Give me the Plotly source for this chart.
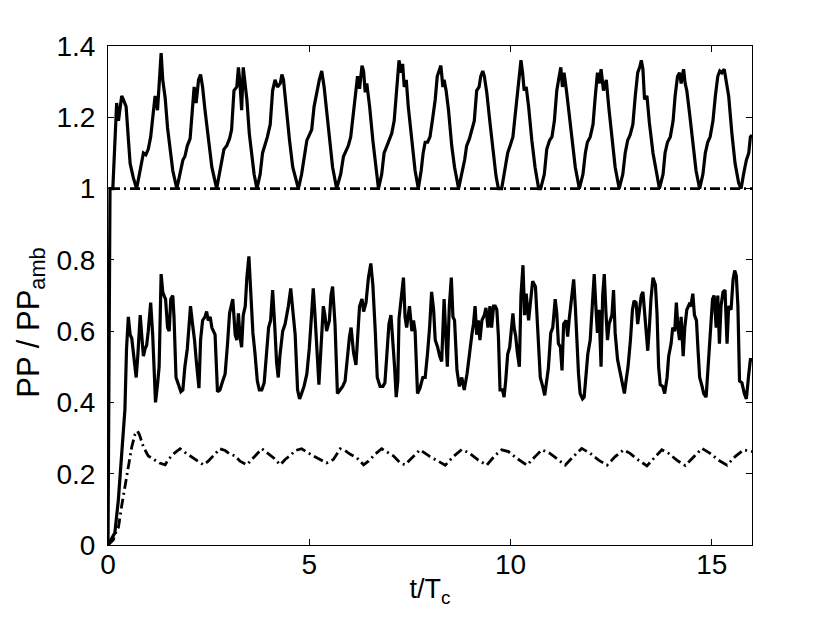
import plotly.graph_objects as go

# ---- data ----
t_upper = [0, 0.05, 0.12, 0.17, 0.215, 0.26, 0.30, 0.34, 0.38, 0.45, 0.505, 0.55, 0.63, 0.71,
           0.78, 0.84, 0.88, 0.94, 1.00, 1.06, 1.13, 1.17, 1.23, 1.28, 1.32, 1.36, 1.42, 1.48, 1.54, 1.61, 1.71,
           1.79, 1.86, 1.91, 1.97, 2.04, 2.10, 2.14, 2.19, 2.25, 2.30, 2.35, 2.41, 2.49, 2.58, 2.70,
           2.77, 2.83, 2.88, 2.95, 3.02, 3.07, 3.13, 3.20, 3.24, 3.28, 3.32, 3.36, 3.41, 3.45, 3.51, 3.57, 3.63, 3.70,
           3.78, 3.84, 3.90, 3.96, 4.03, 4.09, 4.15, 4.21, 4.28, 4.32, 4.36, 4.42, 4.51, 4.59, 4.73,
           4.81, 4.87, 4.94, 5.00, 5.06, 5.12, 5.19, 5.25, 5.31, 5.37, 5.43, 5.50, 5.58, 5.68,
           5.78, 5.85, 5.92, 5.97, 6.03, 6.10, 6.16, 6.20, 6.25, 6.31, 6.35, 6.39, 6.43, 6.50, 6.58, 6.66, 6.72,
           6.80, 6.86, 6.93, 6.99, 7.05, 7.11, 7.17, 7.23, 7.28, 7.32, 7.36, 7.41, 7.46, 7.55, 7.63, 7.71,
           7.78, 7.83, 7.88, 7.94, 8.00, 8.07, 8.13, 8.18, 8.24, 8.27, 8.32, 8.35, 8.40, 8.46, 8.54, 8.61, 8.71,
           8.79, 8.86, 8.91, 8.98, 9.04, 9.10, 9.16, 9.22, 9.26, 9.31, 9.35, 9.41, 9.49, 9.58, 9.64, 9.70, 9.78,
           9.87, 9.93, 9.99, 10.06, 10.11, 10.17, 10.22, 10.26, 10.30, 10.34, 10.39, 10.45, 10.53, 10.61, 10.70, 10.75,
           10.84, 10.90, 10.97, 11.03, 11.09, 11.15, 11.21, 11.25, 11.29, 11.33, 11.39, 11.44, 11.53, 11.61, 11.71,
           11.80, 11.86, 11.91, 11.98, 12.05, 12.10, 12.16, 12.21, 12.25, 12.31, 12.38, 12.44, 12.52, 12.60, 12.70,
           12.79, 12.85, 12.91, 12.97, 13.04, 13.10, 13.16, 13.21, 13.25, 13.29, 13.33, 13.39, 13.45, 13.54, 13.62, 13.70,
           13.79, 13.84, 13.90, 13.97, 14.04, 14.09, 14.15, 14.20, 14.24, 14.30, 14.34, 14.38, 14.45, 14.53, 14.61, 14.70,
           14.78, 14.84, 14.90, 14.96, 15.03, 15.09, 15.15, 15.20, 15.25, 15.31, 15.36, 15.42, 15.50, 15.58, 15.67, 15.73,
           15.79, 15.86, 15.92, 15.96, 16.0]
pp_upper = [0, 1.0, 1.0, 1.14, 1.24, 1.19, 1.225, 1.26, 1.25, 1.23, 1.14, 1.07, 1.03, 1.0,
            1.04, 1.07, 1.10, 1.095, 1.11, 1.145, 1.23, 1.26, 1.22, 1.305, 1.38, 1.305, 1.255, 1.17, 1.11, 1.05, 1.0,
            1.04, 1.08, 1.09, 1.12, 1.14, 1.23, 1.285, 1.24, 1.305, 1.32, 1.285, 1.22, 1.14, 1.06, 1.0,
            1.04, 1.08, 1.11, 1.12, 1.14, 1.165, 1.275, 1.285, 1.34, 1.295, 1.22, 1.34, 1.295, 1.25, 1.155, 1.09, 1.04, 1.0,
            1.04, 1.10, 1.12, 1.145, 1.18, 1.275, 1.305, 1.285, 1.295, 1.32, 1.305, 1.23, 1.135, 1.06, 1.0,
            1.04, 1.09, 1.135, 1.15, 1.165, 1.23, 1.275, 1.305, 1.33, 1.285, 1.22, 1.145, 1.06, 1.0,
            1.04, 1.09, 1.11, 1.12, 1.145, 1.22, 1.275, 1.315, 1.28, 1.345, 1.33, 1.27, 1.295, 1.23, 1.135, 1.06, 1.0,
            1.04, 1.10, 1.12, 1.135, 1.155, 1.19, 1.285, 1.36, 1.325, 1.35, 1.285, 1.305, 1.23, 1.125, 1.05, 1.0,
            1.05, 1.10, 1.13, 1.13, 1.145, 1.20, 1.25, 1.315, 1.34, 1.345, 1.285, 1.305, 1.275, 1.22, 1.12, 1.06, 1.0,
            1.04, 1.08, 1.12, 1.14, 1.165, 1.19, 1.275, 1.285, 1.315, 1.33, 1.315, 1.27, 1.185, 1.10, 1.035, 1.0, 1.0,
            1.06, 1.10, 1.12, 1.145, 1.20, 1.26, 1.315, 1.36, 1.325, 1.275, 1.285, 1.23, 1.135, 1.06, 1.0, 1.0,
            1.04, 1.11, 1.135, 1.145, 1.19, 1.275, 1.315, 1.34, 1.285, 1.325, 1.275, 1.23, 1.135, 1.06, 1.0,
            1.04, 1.10, 1.13, 1.145, 1.18, 1.25, 1.325, 1.295, 1.335, 1.275, 1.305, 1.23, 1.135, 1.06, 1.0,
            1.04, 1.10, 1.135, 1.15, 1.18, 1.26, 1.325, 1.34, 1.36, 1.335, 1.25, 1.26, 1.185, 1.10, 1.045, 1.0,
            1.04, 1.10, 1.13, 1.145, 1.19, 1.26, 1.315, 1.325, 1.295, 1.335, 1.295, 1.275, 1.21, 1.12, 1.05, 1.0,
            1.04, 1.10, 1.13, 1.145, 1.19, 1.26, 1.315, 1.33, 1.325, 1.335, 1.295, 1.26, 1.155, 1.07, 1.015, 1.0,
            1.04, 1.08, 1.10, 1.145, 1.15]

t_mid = [0, 0.17, 0.257, 0.34, 0.42, 0.46, 0.505, 0.55, 0.59, 0.63, 0.70, 0.74, 0.80, 0.84, 0.88, 0.92, 0.96,
         1.00, 1.06, 1.11, 1.14, 1.18, 1.23, 1.27, 1.32, 1.36, 1.39, 1.43, 1.48, 1.52, 1.56, 1.61, 1.64, 1.69,
         1.75, 1.81, 1.86, 1.91, 1.97, 2.02, 2.05, 2.10, 2.15, 2.19, 2.23, 2.26, 2.30, 2.35, 2.41, 2.45, 2.49,
         2.54, 2.58, 2.66, 2.72, 2.78, 2.85, 2.91, 2.97, 3.02, 3.06, 3.10, 3.16, 3.20, 3.24, 3.28, 3.32, 3.36,
         3.41, 3.45, 3.50, 3.55, 3.60, 3.65, 3.71, 3.76, 3.82, 3.88, 3.93, 3.99, 4.04, 4.09, 4.14, 4.19, 4.23,
         4.27, 4.34, 4.40, 4.48, 4.54, 4.59, 4.65, 4.71, 4.76, 4.81, 4.87, 4.94, 5.00, 5.06, 5.10, 5.14, 5.19,
         5.24, 5.29, 5.35, 5.39, 5.43, 5.50, 5.54, 5.58, 5.64, 5.70, 5.77, 5.83, 5.89, 5.95, 6.00, 6.04, 6.10,
         6.16, 6.21, 6.25, 6.31, 6.35, 6.41, 6.47, 6.53, 6.58, 6.64, 6.69, 6.76, 6.83, 6.88, 6.94, 6.98, 7.03,
         7.08, 7.12, 7.16, 7.20, 7.23, 7.28, 7.34, 7.38, 7.42, 7.49, 7.55, 7.59, 7.63, 7.69, 7.75, 7.82, 7.88,
         7.94, 7.99, 8.04, 8.09, 8.13, 8.19, 8.24, 8.29, 8.35, 8.40, 8.43, 8.48, 8.53, 8.57, 8.61, 8.67, 8.73,
         8.79, 8.85, 8.92, 8.98, 9.04, 9.08, 9.12, 9.16, 9.20, 9.24, 9.29, 9.35, 9.39, 9.44, 9.49, 9.53, 9.58,
         9.62, 9.66, 9.70, 9.74, 9.80, 9.84, 9.88, 9.93, 9.98, 10.02, 10.06, 10.09, 10.13, 10.17, 10.22, 10.26,
         10.31, 10.35, 10.39, 10.45, 10.49, 10.55, 10.62, 10.65, 10.70, 10.74, 10.80, 10.85, 10.88, 10.94, 11.00,
         11.05, 11.11, 11.15, 11.19, 11.24, 11.28, 11.32, 11.38, 11.42, 11.46, 11.52, 11.57, 11.61, 11.65, 11.69,
         11.73, 11.79, 11.83, 11.87, 11.92, 11.98, 12.03, 12.08, 12.12, 12.16, 12.20, 12.25, 12.29, 12.33, 12.37,
         12.41, 12.45, 12.52, 12.56, 12.60, 12.66, 12.71, 12.77, 12.83, 12.87, 12.92, 12.98, 13.03, 13.07, 13.12,
         13.16, 13.21, 13.25, 13.29, 13.32, 13.37, 13.41, 13.45, 13.49, 13.54, 13.60, 13.64, 13.68, 13.72, 13.78,
         13.83, 13.89, 13.93, 13.99, 14.03, 14.08, 14.12, 14.16, 14.20, 14.24, 14.29, 14.33, 14.38, 14.44, 14.48,
         14.53, 14.57, 14.62, 14.66, 14.70, 14.76, 14.80, 14.86, 14.90, 14.96, 15.02, 15.06, 15.11, 15.15, 15.19,
         15.23, 15.28, 15.33, 15.38, 15.42, 15.48, 15.53, 15.57, 15.61, 15.65, 15.69, 15.75, 15.81, 15.86, 15.92,
         15.96, 16.0]
pp_mid = [0, 0.034, 0.126, 0.27, 0.38, 0.55, 0.64, 0.59, 0.58, 0.54, 0.47, 0.53, 0.645, 0.585, 0.53, 0.55, 0.56,
          0.60, 0.68, 0.59, 0.52, 0.40, 0.45, 0.50, 0.76, 0.71, 0.70, 0.69, 0.61, 0.60, 0.69, 0.70, 0.64, 0.47,
          0.45, 0.43, 0.435, 0.50, 0.55, 0.64, 0.67, 0.62, 0.575, 0.52, 0.46, 0.44, 0.575, 0.63, 0.64, 0.655, 0.63,
          0.64, 0.61, 0.59, 0.43, 0.435, 0.46, 0.48, 0.565, 0.65, 0.67, 0.69, 0.59, 0.575, 0.65, 0.585, 0.555, 0.645,
          0.67, 0.75, 0.81, 0.715, 0.595, 0.54, 0.46, 0.435, 0.435, 0.455, 0.54, 0.61, 0.63, 0.715, 0.62, 0.51, 0.47,
          0.53, 0.60, 0.62, 0.67, 0.72, 0.66, 0.59, 0.435, 0.41, 0.425, 0.445, 0.48, 0.55, 0.65, 0.72, 0.65, 0.565,
          0.45, 0.55, 0.67, 0.645, 0.60, 0.63, 0.70, 0.725, 0.62, 0.425, 0.435, 0.445, 0.46, 0.54, 0.585, 0.61, 0.54,
          0.505, 0.59, 0.67, 0.69, 0.655, 0.68, 0.75, 0.79, 0.73, 0.60, 0.47, 0.445, 0.445, 0.455, 0.555, 0.62, 0.645,
          0.575, 0.50, 0.415, 0.46, 0.635, 0.68, 0.75, 0.64, 0.61, 0.67, 0.60, 0.63, 0.60, 0.425, 0.44, 0.47, 0.47,
          0.54, 0.61, 0.71, 0.66, 0.575, 0.555, 0.53, 0.515, 0.69, 0.59, 0.50, 0.67, 0.75, 0.64, 0.63, 0.49, 0.445,
          0.47, 0.435, 0.48, 0.545, 0.59, 0.62, 0.67, 0.59, 0.63, 0.575, 0.63, 0.645, 0.665, 0.61, 0.67, 0.61, 0.67,
          0.67, 0.66, 0.585, 0.435, 0.435, 0.415, 0.46, 0.535, 0.555, 0.595, 0.65, 0.61, 0.585, 0.54, 0.50, 0.70,
          0.785, 0.645, 0.705, 0.63, 0.67, 0.74, 0.725, 0.65, 0.54, 0.47, 0.445, 0.42, 0.445, 0.495, 0.595,
          0.61, 0.69, 0.65, 0.565, 0.555, 0.49, 0.62, 0.63, 0.585, 0.635, 0.705, 0.745, 0.67, 0.55, 0.48,
          0.425, 0.41, 0.415, 0.46, 0.535, 0.575, 0.66, 0.76, 0.67, 0.595, 0.66, 0.50, 0.70, 0.76, 0.655,
          0.575, 0.62, 0.645, 0.715, 0.595, 0.52, 0.49, 0.46, 0.425, 0.46, 0.50, 0.575, 0.66, 0.685, 0.68,
          0.62, 0.66, 0.70, 0.71, 0.67, 0.585, 0.545, 0.61, 0.69, 0.75, 0.73, 0.65, 0.50, 0.45, 0.445,
          0.425, 0.47, 0.53, 0.565, 0.61, 0.60, 0.68, 0.61, 0.575, 0.64, 0.53, 0.61, 0.66, 0.675, 0.67,
          0.705, 0.645, 0.63, 0.545, 0.47, 0.445, 0.425, 0.415, 0.48, 0.575, 0.69, 0.70, 0.61, 0.70, 0.565,
          0.67, 0.71, 0.715, 0.565, 0.67, 0.66, 0.745, 0.77, 0.755, 0.67, 0.46, 0.455, 0.425, 0.41, 0.48,
          0.52, 0.52]

t_low = [0, 0.13, 0.215, 0.26, 0.34, 0.42, 0.505, 0.59, 0.67, 0.73, 0.78, 0.88, 1.00, 1.13, 1.28, 1.42,
         1.50, 1.62, 1.79, 1.91, 2.04, 2.20, 2.37, 2.49, 2.66, 2.78, 2.91, 3.03, 3.16, 3.28, 3.45, 3.57, 3.70,
         3.82, 3.94, 4.11, 4.28, 4.40, 4.52, 4.65, 4.81, 4.94, 5.10, 5.27, 5.43, 5.60, 5.77, 5.89, 6.01, 6.18,
         6.35, 6.47, 6.64, 6.80, 6.93, 7.09, 7.26, 7.38, 7.51, 7.63, 7.75, 8.00, 8.38, 8.58, 8.79, 8.99, 9.20,
         9.41, 9.62, 9.78, 9.95, 10.16, 10.41, 10.61, 10.78, 10.98, 11.19, 11.36, 11.56, 11.77, 11.98, 12.19,
         12.40, 12.60, 12.81, 12.97, 13.18, 13.39, 13.60, 13.76, 13.93, 14.13, 14.34, 14.55, 14.76, 14.96,
         15.17, 15.38, 15.58, 15.79, 16.0]
pp_low = [0, 0.014, 0.042, 0.05, 0.11, 0.16, 0.22, 0.275, 0.31, 0.32, 0.31, 0.275, 0.25, 0.24, 0.23, 0.225,
          0.24, 0.255, 0.27, 0.26, 0.25, 0.24, 0.225, 0.235, 0.255, 0.27, 0.265, 0.255, 0.25, 0.235, 0.225, 0.24, 0.255,
          0.27, 0.26, 0.245, 0.225, 0.24, 0.25, 0.265, 0.27, 0.26, 0.25, 0.24, 0.23, 0.24, 0.27, 0.265, 0.255, 0.245,
          0.225, 0.235, 0.255, 0.27, 0.26, 0.25, 0.23, 0.225, 0.24, 0.255, 0.267, 0.248, 0.224, 0.248, 0.268, 0.257, 0.238,
          0.224, 0.252, 0.267, 0.262, 0.243, 0.224, 0.248, 0.267, 0.257, 0.238, 0.224, 0.248, 0.271, 0.257, 0.238,
          0.224, 0.248, 0.267, 0.257, 0.238, 0.222, 0.248, 0.267, 0.257, 0.238, 0.223, 0.248, 0.271, 0.257,
          0.238, 0.224, 0.248, 0.267, 0.262]

t_ref = [0.05, 16.0]
pp_ref = [1.0, 1.0]

x_ticks = [0, 5, 10, 15]
y_ticks = [0, 0.2, 0.4, 0.6, 0.8, 1.0, 1.2, 1.4]
y_tick_text = ["0", "0.2", "0.4", "0.6", "0.8", "1", "1.2", "1.4"]

FONT = "Liberation Sans, Arial, Helvetica, sans-serif"
DASHDOT = "10px,4px,2px,4px"

fig = go.Figure()
fig.add_trace(go.Scatter(x=t_ref, y=pp_ref, mode="lines",
                         line=dict(color="black", width=2.8, dash=DASHDOT), hoverinfo="skip"))
fig.add_trace(go.Scatter(x=t_low, y=pp_low, mode="lines",
                         line=dict(color="black", width=2.8, dash=DASHDOT), hoverinfo="skip"))
fig.add_trace(go.Scatter(x=t_mid, y=pp_mid, mode="lines",
                         line=dict(color="black", width=3.2), hoverinfo="skip"))
fig.add_trace(go.Scatter(x=t_upper, y=pp_upper, mode="lines",
                         line=dict(color="black", width=3.2), hoverinfo="skip"))

axis_common = dict(showline=True, linecolor="black", linewidth=1, mirror="ticks",
                   ticks="inside", ticklen=6, tickcolor="black", tickwidth=1,
                   showgrid=False, zeroline=False, automargin=False,
                   tickfont=dict(family=FONT, size=28, color="black"))

fig.update_layout(
    width=830, height=625,
    margin=dict(l=100, r=86, t=38, b=88),
    paper_bgcolor="white", plot_bgcolor="white",
    showlegend=False,
    font=dict(family=FONT, color="black"),
    xaxis=dict(range=[0, 16], tickvals=x_ticks, ticktext=[str(v) for v in x_ticks],
               ticklabelstandoff=-6,
               title=dict(text="t/T<sub>c</sub>", font=dict(family=FONT, size=27), standoff=0),
               **axis_common),
    yaxis=dict(range=[0, 1.4], tickvals=y_ticks, ticktext=y_tick_text,
               ticklabelstandoff=6,
               **axis_common),
    annotations=[dict(text="PP / PP<sub>amb</sub>", textangle=-90, showarrow=False,
                      xref="paper", yref="paper", x=-0.12, y=0.445,
                      xanchor="center", yanchor="middle",
                      font=dict(family=FONT, size=31, color="black"))],
)

fig.write_html("out.html")
